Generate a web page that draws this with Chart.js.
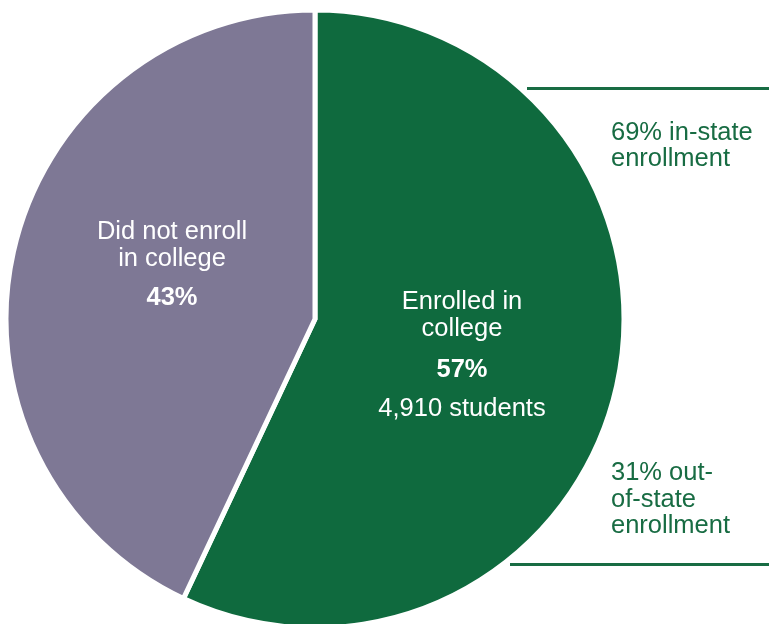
<!DOCTYPE html>
<html>
<head>
<meta charset="utf-8">
<script src="https://cdn.jsdelivr.net/npm/chart.js@4.4.1/dist/chart.umd.min.js"></script>
<style>
  html, body { margin: 0; padding: 0; background: #fff; }
  #wrap { width: 769px; height: 624px; overflow: hidden; }
</style>
</head>
<body>
<div id="wrap"><canvas id="pie" width="769" height="624"></canvas></div>
<script>
// college enrollment of graduates
const categories = ['Enrolled in college', 'Did not enroll in college'];
const shares = [57, 43];
const sliceColors = ['#0f6a3e', '#7e7895'];
const enrolledStudents = 4910;

// where the enrolled students went
const residencyLabels = ['in-state', 'out-of-state'];
const residencyShares = [69, 31];

const GREEN = '#186c43';
const FONT = '"Liberation Sans", Arial, sans-serif';
const SIZE = 25.5;

function drawLines(ctx, lines, x, y, step, align) {
    ctx.textAlign = align;
    lines.forEach((line, i) => {
        ctx.font = (line.bold ? 'bold ' : '') + SIZE + 'px ' + FONT;
        ctx.fillText(line.text, x, y + (line.dy !== undefined ? line.dy : i * step));
    });
}

const annotations = {
    id: 'annotations',
    afterDraw(chart) {
        const {ctx, width} = chart;
        const arc = chart.getDatasetMeta(0).data[0];
        const cx = arc.x, cy = arc.y;

        ctx.save();
        ctx.textBaseline = 'middle';

        // labels inside the slices
        ctx.fillStyle = '#ffffff';
        drawLines(ctx, [
            {text: 'Enrolled in', dy: 0},
            {text: 'college', dy: 27},
            {text: shares[0] + '%', bold: true, dy: 68},
            {text: enrolledStudents.toLocaleString('en-US') + ' students', dy: 107}
        ], cx + 147, cy - 17, 0, 'center');

        drawLines(ctx, [
            {text: 'Did not enroll', dy: 0},
            {text: 'in college', dy: 27},
            {text: shares[1] + '%', bold: true, dy: 66}
        ], cx - 143, cy - 87, 0, 'center');

        // residency breakdown on the right
        ctx.fillStyle = GREEN;
        drawLines(ctx, [
            {text: residencyShares[0] + '% in-state'},
            {text: 'enrollment'}
        ], 611, 133, 26, 'left');
        drawLines(ctx, [
            {text: residencyShares[1] + '% out-'},
            {text: 'of-state'},
            {text: 'enrollment'}
        ], 611, 473, 26.5, 'left');

        ctx.strokeStyle = GREEN;
        ctx.lineWidth = 3;
        ctx.beginPath();
        ctx.moveTo(527, 88.5);
        ctx.lineTo(width, 88.5);
        ctx.moveTo(510, 564.5);
        ctx.lineTo(width, 564.5);
        ctx.stroke();
        ctx.restore();
    }
};

new Chart(document.getElementById('pie'), {
    type: 'pie',
    data: {
        labels: categories,
        datasets: [{
            data: shares,
            backgroundColor: sliceColors,
            borderColor: '#ffffff',
            borderWidth: 5,
            borderJoinStyle: 'miter'
        }]
    },
    options: {
        responsive: false,
        animation: false,
        events: [],
        radius: 309,
        layout: {padding: {left: 0, right: 139, top: 14, bottom: 0}},
        plugins: {
            legend: {display: false},
            tooltip: {enabled: false}
        }
    },
    plugins: [annotations]
});
</script>
</body>
</html>
